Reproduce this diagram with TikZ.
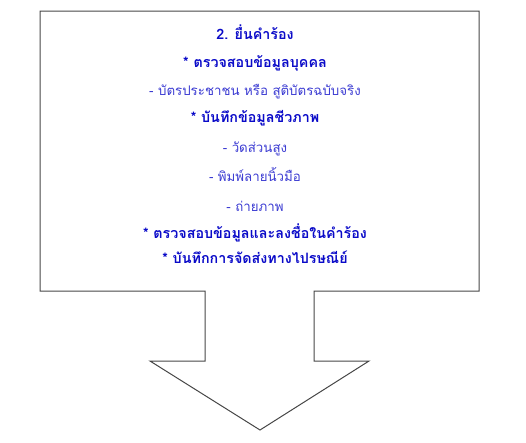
\documentclass[tikz,border=0pt]{standalone}
\usepackage{fontspec}
\newfontfamily\thaifont[Script=Thai]{Loma}
\definecolor{txtblue}{RGB}{10,10,200}
\definecolor{lnblue}{RGB}{60,60,210}
\definecolor{edge}{RGB}{70,70,70}
\begin{document}
\begin{tikzpicture}[x=1pt,y=-1pt,
  bold/.style={font=\thaifont\bfseries\fontsize{14.3}{16}\selectfont,text=txtblue,inner sep=0pt,anchor=base},
  plain/.style={font=\thaifont\fontsize{13.3}{15}\selectfont,text=lnblue,inner sep=0pt,anchor=base},
  outline/.style={draw=edge,line width=1pt,line join=miter}]
\useasboundingbox (0,0) rectangle (526,442);
\draw[outline] (40,11) -- (479,11) -- (479,291) -- (314,291) -- (314,361) -- (369,361)
  -- (260,430) -- (150,361) -- (205,361) -- (205,291) -- (40,291) -- cycle;
\node[bold]  (t1) at (255,39.5)  {2. ยื่นคำร้อง};
\node[bold]  (t2) at (255,67.5)  {* ตรวจสอบข้อมูลบุคคล};
\node[plain] (t3) at (255,95)  {- บัตรประชาชน หรือ สูติบัตรฉบับจริง};
\node[bold]  (t4) at (255,122.5) {* บันทึกข้อมูลชีวภาพ};
\node[plain] (t5) at (255,152)  {- วัดส่วนสูง};
\node[plain] (t6) at (255,181)  {- พิมพ์ลายนิ้วมือ};
\node[plain] (t7) at (255,211)  {- ถ่ายภาพ};
\node[bold]  (t8) at (255,238.5) {* ตรวจสอบข้อมูลและลงชื่อในคำร้อง};
\node[bold]  (t9) at (255,263.5) {* บันทึกการจัดส่งทางไปรษณีย์};
\end{tikzpicture}
\end{document}
